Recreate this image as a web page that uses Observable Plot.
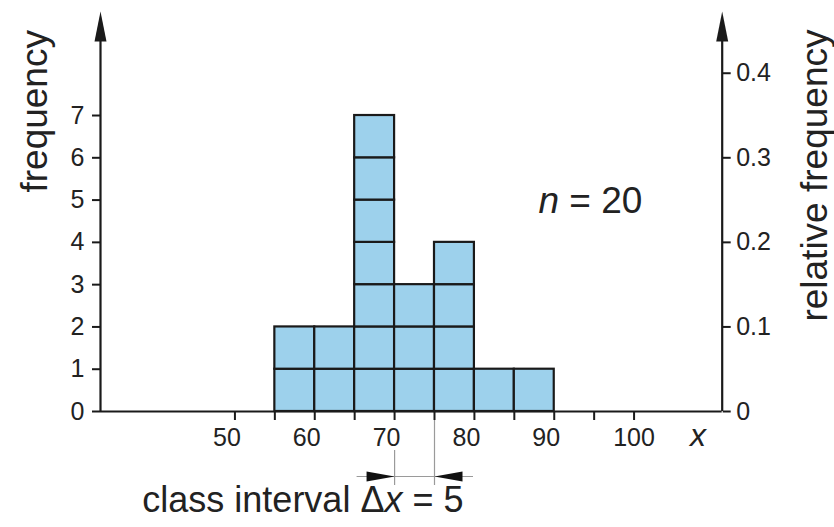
<!DOCTYPE html>
<html><head><meta charset="utf-8">
<script src="https://cdn.jsdelivr.net/npm/d3@7"></script>
<script src="https://cdn.jsdelivr.net/npm/@observablehq/plot@0.6"></script>
<style>html,body{margin:0;padding:0;background:#fff}</style>
</head><body><div id="chart"></div>
<script>
// ---- data ----
const binStarts = [55, 60, 65, 70, 75, 80, 85];
const counts = [2, 2, 7, 3, 4, 1, 1];
const classWidth = 5;
const n = 20;
const freqTicks = [0, 1, 2, 3, 4, 5, 6, 7];
const relTicks = [0, 0.1, 0.2, 0.3, 0.4];
const xTicks = [50, 55, 60, 65, 70, 75, 80, 85, 90, 95, 100];
const xLabels = [50, 60, 70, 80, 90, 100];
const classInterval = [70, 75];

// unit squares (one per observation)
const cells = binStarts.flatMap((b, i) =>
  d3.range(counts[i]).map(k => ({x1: b, x2: b + classWidth, y1: k, y2: k + 1})));

const X0 = 33.16, X1 = 111.04, YTOP = 9.46;
const ink = "#1a1a1a", txt = "#222";
const arrowUp = {draw(c){c.moveTo(0,0);c.lineTo(-6,30);c.lineTo(6,30);c.closePath();}};
const arrowRight = {draw(c){c.moveTo(0,0);c.lineTo(-28,-5);c.lineTo(-28,5);c.closePath();}};
const arrowLeft = {draw(c){c.moveTo(0,0);c.lineTo(28,-5);c.lineTo(28,5);c.closePath();}};

const svg = Plot.plot({
  width: 834, height: 527,
  marginLeft: 100, marginRight: 112.3, marginTop: 11, marginBottom: 116,
  x: {domain: [X0, X1]},
  y: {domain: [0, YTOP]},
  style: {fontFamily: "'Liberation Sans', Arial, Helvetica, sans-serif", background: "white", color: txt},
  marks: [
    Plot.rect(cells, {x1: "x1", x2: "x2", y1: "y1", y2: "y2", fill: "#9dd1ec", stroke: ink, strokeWidth: 2.2}),
    // axes lines with arrows
    Plot.ruleY([0], {stroke: ink, strokeWidth: 2.2}),
    Plot.ruleX([X0, X1], {y1: 0, y2: YTOP - 0.3, stroke: ink, strokeWidth: 2.2}),
    Plot.dot([X0, X1], {x: d => d, y: YTOP, symbol: arrowUp, fill: ink, stroke: "none"}),
    Plot.axisY({anchor: "left", ticks: freqTicks, tickSize: 8, tickPadding: 8, fontSize: 25,
      strokeWidth: 2, stroke: ink, fill: txt, label: null, tickFormat: d => String(d)}),
    Plot.axisY({anchor: "right", ticks: relTicks.map(r => r * n), tickSize: 8, tickPadding: 6, fontSize: 25,
      strokeWidth: 2, stroke: ink, fill: txt, label: null,
      tickFormat: d => d === 0 ? "0" : (d / n).toFixed(1)}),
    Plot.axisX({ticks: xTicks, tickSize: 9, strokeWidth: 2, stroke: ink, label: null, tickFormat: () => ""}),
    Plot.text(xLabels.filter(v => v < 100), {x: d => d, y: 0, dy: 26, dx: -8, fontSize: 25, text: d => String(d), fill: txt}),
    Plot.text(xLabels.filter(v => v >= 100), {x: d => d, y: 0, dy: 26, fontSize: 25, text: d => String(d), fill: txt}),
    Plot.text(["x"], {x: 108, y: 0, dy: 24, fontSize: 32, fontStyle: "italic", text: d => d, fill: txt}),
    // axis titles
    Plot.text(["frequency"], {x: 24.96, y: 7.1, rotate: -90, fontSize: 37, text: d => d, fill: txt}),
    Plot.text(["relative frequency"], {x: 122.7, y: 5.58, rotate: -90, fontSize: 37, text: d => d, fill: txt}),
    Plot.text(["n = " + n], {x: 88.03, y: 4.97, textAnchor: "start", fontSize: 37, text: d => d, fill: txt}),
    // class interval annotation
    Plot.ruleX([classInterval[0]], {y1: 0, y2: 0, insetTop: 39, insetBottom: -74, stroke: "#9a9a9a", strokeWidth: 1.2}),
    Plot.ruleX([classInterval[1]], {y1: 0, y2: 0, insetTop: 9, insetBottom: -74, stroke: "#9a9a9a", strokeWidth: 1.2}),
    Plot.ruleY([0], {x1: classInterval[0], x2: classInterval[1], dy: 65, insetLeft: -37.5, insetRight: -39, stroke: "#9a9a9a", strokeWidth: 1.2}),
    Plot.dot([classInterval[0]], {x: d => d, y: 0, dy: 65, symbol: arrowRight, fill: "#111", stroke: "none"}),
    Plot.dot([classInterval[1]], {x: d => d, y: 0, dy: 65, symbol: arrowLeft, fill: "#111", stroke: "none"}),
    Plot.text(["class interval \u0394x = " + classWidth], {x: classInterval[1], y: 0, dx: 29, dy: 88.5, textAnchor: "end", fontSize: 36, text: d => d, fill: txt})
  ]
});

svg.querySelectorAll("text").forEach(t => {
  const s = t.textContent;
  if (s === "n = " + n) t.innerHTML = '<tspan font-style="italic">n</tspan> = ' + n;
  if (s === "class interval \u0394x = " + classWidth) t.innerHTML = 'class interval \u0394<tspan font-style="italic">x</tspan> = ' + classWidth;
});
document.getElementById("chart").appendChild(svg);
</script>
</body></html>
